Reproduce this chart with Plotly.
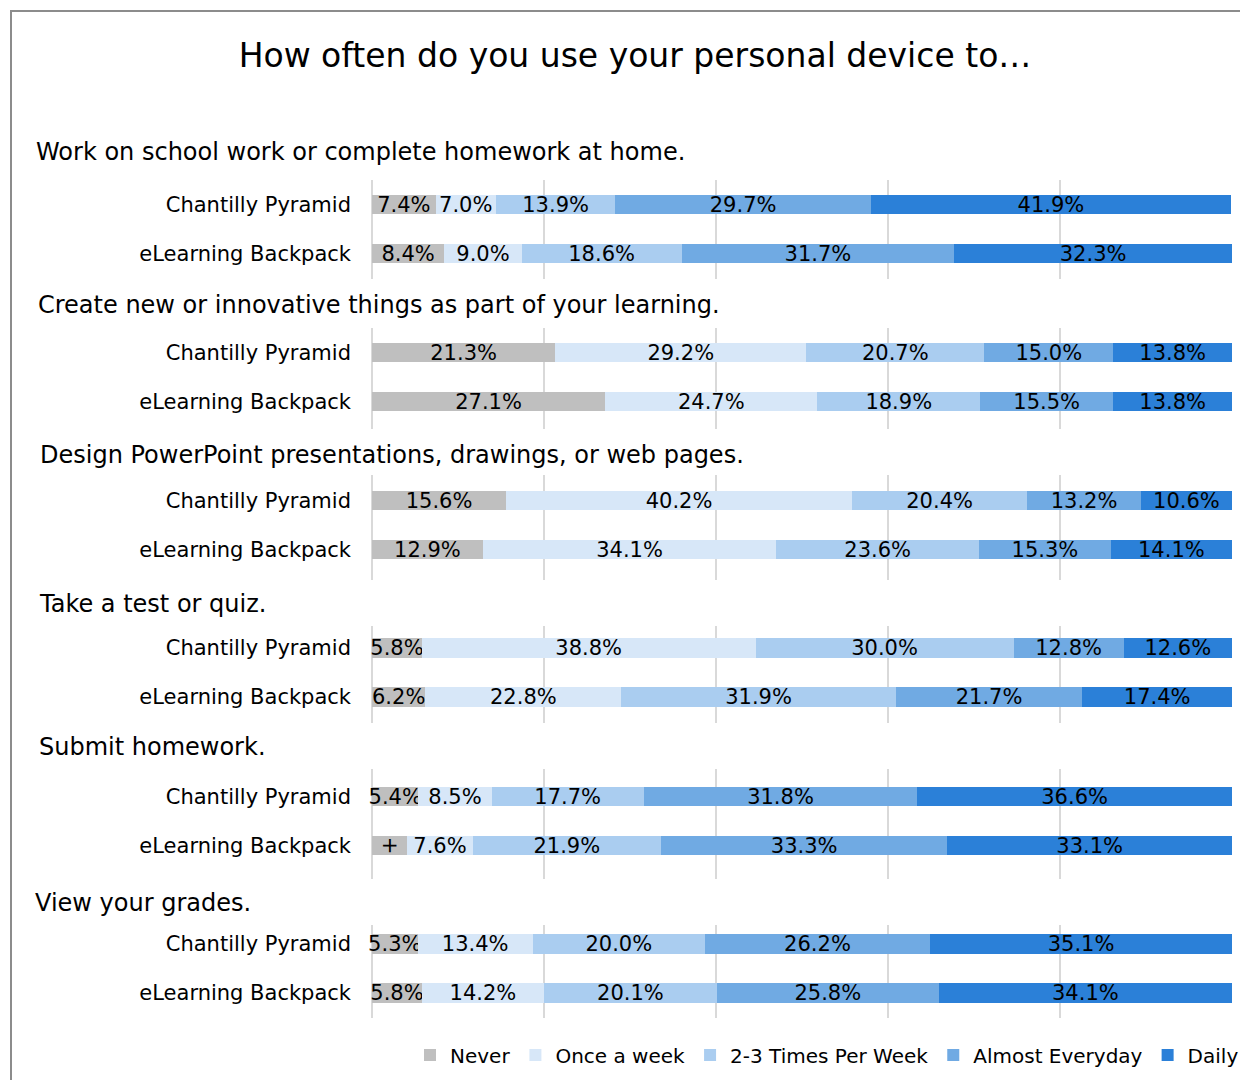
import plotly.graph_objects as go
from plotly.subplots import make_subplots

# survey data: one pair per question -> [Chantilly Pyramid, eLearning Backpack]
questions = [
    "Work on school work or complete homework at home.",
    "Create new or innovative things as part of your learning.",
    "Design PowerPoint presentations, drawings, or web pages.",
    "Take a test or quiz.",
    "Submit homework.",
    "View your grades.",
]
groups = ["Chantilly Pyramid", "eLearning Backpack"]
frequencies = ["Never", "Once a week", "2-3 Times Per Week", "Almost Everyday", "Daily"]

never = [[7.4, 8.4], [21.3, 27.1], [15.6, 12.9], [5.8, 6.2], [5.4, 4.1], [5.3, 5.8]]
once_a_week = [[7.0, 9.0], [29.2, 24.7], [40.2, 34.1], [38.8, 22.8], [8.5, 7.6], [13.4, 14.2]]
times_2_3 = [[13.9, 18.6], [20.7, 18.9], [20.4, 23.6], [30.0, 31.9], [17.7, 21.9], [20.0, 20.1]]
almost_everyday = [[29.7, 31.7], [15.0, 15.5], [13.2, 15.3], [12.8, 21.7], [31.8, 33.3], [26.2, 25.8]]
daily = [[41.9, 32.3], [13.8, 13.8], [10.6, 14.1], [12.6, 17.4], [36.6, 33.1], [35.1, 34.1]]

# the original chart shows a stray "+" instead of the value here
label_override = {("Never", 4, 1): "+"}

series = [never, once_a_week, times_2_3, almost_everyday, daily]
colors = ["#BFBFBF", "#D7E7F8", "#AACDF0", "#70AAE3", "#2B80D8"]

W, H = 1248, 1080
OFF = 8  # page body margin, the figure starts 8px in
FONT = "DejaVu Sans"

# screen-pixel layout of each small chart: grid top, first bar centre, grid bottom
panels = [
    (180, 204.5, 279),
    (328, 352.5, 429),
    (475, 500.5, 580),
    (626, 648, 723),
    (769, 796.5, 879),
    (925, 944, 1018),
]
title_pos = [(34, 152), (36, 305), (38, 455), (37, 604), (37, 747), (33, 903)]
ROW_PX = 49.0


def px_x(x):
    return (x - OFF) / W


def px_y(y):
    return 1 - (y - OFF) / H


def main():
    fig = make_subplots(rows=len(questions), cols=1)

    for i in range(len(questions)):
        for name, vals, col in zip(frequencies, series, colors):
            texts = [label_override.get((name, i, k), f"{v:.1f}%") for k, v in enumerate(vals[i])]
            fig.add_trace(
                go.Bar(
                    y=groups,
                    x=vals[i],
                    orientation="h",
                    name=name,
                    legendgroup=name,
                    showlegend=(i == 0),
                    marker=dict(color=col, line=dict(width=0)),
                    width=0.4,
                    text=texts,
                    textposition="inside",
                    insidetextanchor="middle",
                    textfont=dict(family=FONT, size=21, color="black"),
                    insidetextfont=dict(family=FONT, size=21, color="black"),
                    cliponaxis=False,
                    hovertemplate="%{y}: %{x:.1f}%<extra>" + name + "</extra>",
                ),
                row=i + 1, col=1,
            )

    for i, (top, cp, bottom) in enumerate(panels):
        n = "" if i == 0 else str(i + 1)
        r_top = -(cp - top) / ROW_PX
        r_bot = 1 + (bottom - (cp + ROW_PX)) / ROW_PX
        fig.layout["xaxis" + n].update(
            domain=[px_x(372), px_x(1232)],
            range=[0, 100],
            dtick=20,
            showgrid=True,
            gridcolor="#D9D9D9",
            gridwidth=2,
            zeroline=True,
            zerolinecolor="#D9D9D9",
            zerolinewidth=2,
            showticklabels=False,
            ticks="",
            fixedrange=True,
        )
        fig.layout["yaxis" + n].update(
            domain=[px_y(bottom), px_y(top)],
            type="category",
            range=[r_bot, r_top],
            showgrid=False,
            ticks="",
            ticklabelstandoff=20,
            tickfont=dict(family=FONT, size=21, color="black"),
            fixedrange=True,
        )

    for q, (tx, ty) in zip(questions, title_pos):
        fig.add_annotation(
            text=q, xref="paper", yref="paper",
            x=px_x(tx), y=px_y(ty), xanchor="left", yanchor="middle",
            showarrow=False, font=dict(family=FONT, size=24, color="black"),
        )

    # outer chart border, runs off the right and bottom edges like the original
    fig.add_shape(
        type="rect", xref="paper", yref="paper",
        x0=px_x(11), x1=1.05, y0=-0.05, y1=px_y(11),
        line=dict(color="#8C8C8C", width=2), fillcolor="rgba(0,0,0,0)", layer="below",
    )

    fig.update_layout(
        width=W,
        height=H,
        margin=dict(l=0, r=0, t=0, b=0),
        barmode="stack",
        paper_bgcolor="white",
        plot_bgcolor="white",
        font=dict(family=FONT, color="black"),
        title=dict(
            text="How often do you use your personal device to…",
            x=px_x(635), xanchor="center", y=px_y(55), yanchor="middle",
            font=dict(family=FONT, size=33, color="black"),
        ),
        legend=dict(
            orientation="h",
            x=px_x(1244), xanchor="right",
            y=px_y(1055), yanchor="middle",
            font=dict(family=FONT, size=20, color="black"),
            bgcolor="rgba(0,0,0,0)",
            traceorder="normal",
            itemwidth=30,
        ),
        uniformtext=dict(minsize=21, mode="show"),
        showlegend=True,
    )

    fig.write_html("out.html")


if __name__ == "__main__":
    main()
